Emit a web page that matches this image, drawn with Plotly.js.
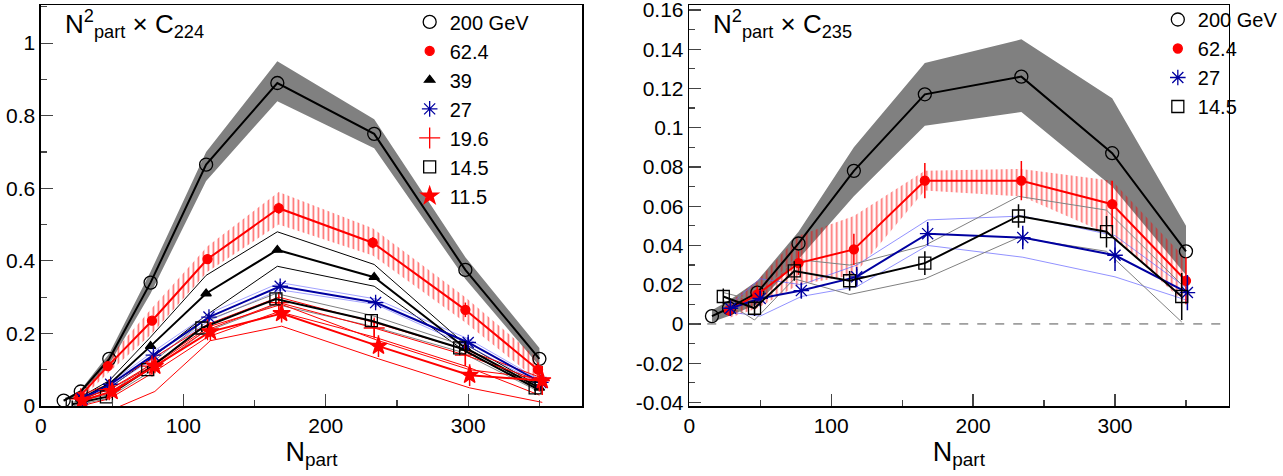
<!DOCTYPE html>
<html><head><meta charset="utf-8">
<script src="https://cdn.plot.ly/plotly-3.0.1.min.js"></script>
<style>body{margin:0}#c{width:1283px;height:476px}</style></head>
<body><div id="c"></div>
<script>
// ---------- Left panel: N_part^2 x C224 ----------
const L200x=[16,28,48,77,116,166,234,298,350];
const L200y=[0.015,0.04,0.13,0.34,0.665,0.89,0.75,0.375,0.13];
const L200lo=[0.012,0.035,0.115,0.31,0.62,0.84,0.71,0.35,0.11];
const L200hi=[0.018,0.045,0.145,0.37,0.70,0.95,0.79,0.41,0.16];
const L62x=[27,47,78,117,167,233,298,349];
const L62y=[0.025,0.11,0.235,0.405,0.545,0.45,0.265,0.10];
const L62e=[0.005,0.01,0.01,0.012,0.015,0.015,0.02,0.02];
const L62lo=[0.015,0.09,0.2,0.37,0.50,0.415,0.23,0.07];
const L62hi=[0.035,0.13,0.27,0.44,0.59,0.49,0.30,0.13];
const L39x=[28,48,77,116,166,234,298,350];
const L39y=[0.02,0.06,0.165,0.31,0.43,0.355,0.16,0.05];
const L39lo=[0.015,0.05,0.13,0.25,0.385,0.33,0.15,0.045];
const L39hi=[0.025,0.07,0.19,0.36,0.48,0.39,0.17,0.055];
const L27x=[29,49,79,118,168,235,300,351];
const L27y=[0.02,0.06,0.14,0.245,0.33,0.285,0.175,0.065];
const L27e=[0.005,0.008,0.01,0.01,0.012,0.012,0.015,0.02];
const L27lo=[0.017,0.055,0.13,0.235,0.32,0.28,0.165,0.06];
const L27hi=[0.023,0.065,0.15,0.255,0.34,0.295,0.185,0.07];
const L19x=[28,48,78,117,167,234,298,350];
const L19y=[0.02,0.045,0.11,0.21,0.285,0.215,0.14,0.07];
const L19e=[0.01,0.01,0.015,0.02,0.02,0.025,0.03,0.03];
const L19lo=[0.0,0.02,0.09,0.19,0.26,0.19,0.11,0.03];
const L19hi=[0.03,0.06,0.13,0.225,0.3,0.23,0.155,0.08];
const L14x=[22,46,75,113,165,232,294,347];
const L14y=[0.005,0.025,0.10,0.215,0.295,0.235,0.16,0.05];
const L14e=[0.01,0.01,0.01,0.012,0.015,0.015,0.02,0.02];
const L14lo=[0.0,0.02,0.09,0.2,0.28,0.22,0.15,0.045];
const L14hi=[0.01,0.03,0.11,0.23,0.31,0.25,0.17,0.055];
const L11x=[29,50,80,119,169,237,301,352];
const L11y=[0.015,0.04,0.11,0.205,0.255,0.165,0.085,0.07];
const L11e=[0.01,0.015,0.02,0.025,0.025,0.03,0.03,0.04];
const L11lo=[-0.03,-0.01,0.04,0.18,0.22,0.13,0.05,0.01];
const L11hi=[0.02,0.05,0.12,0.22,0.28,0.18,0.1,0.075];
// ---------- Right panel: N_part^2 x C235 ----------
const R200x=[16,28,48,77,116,166,234,298,350];
const R200y=[0.004,0.008,0.016,0.041,0.078,0.117,0.126,0.087,0.037];
const R200lo=[0.001,0.004,0.01,0.033,0.065,0.101,0.108,0.07,0.025];
const R200hi=[0.007,0.012,0.022,0.047,0.09,0.133,0.145,0.115,0.05];
const R62x=[28,48,77,116,166,234,298,350];
const R62y=[0.007,0.015,0.031,0.038,0.073,0.073,0.061,0.022];
const R62e=[0.003,0.004,0.006,0.008,0.009,0.01,0.012,0.012];
const R62lo=[0.003,0.008,0.02,0.025,0.068,0.065,0.045,0.01];
const R62hi=[0.011,0.022,0.045,0.055,0.078,0.079,0.073,0.033];
const R27x=[29,50,79,118,168,235,300,351];
const R27y=[0.008,0.013,0.017,0.024,0.046,0.044,0.035,0.016];
const R27e=[0.004,0.004,0.004,0.005,0.006,0.006,0.008,0.009];
const R27lo=[0.006,0.004,0.014,0.019,0.040,0.034,0.024,0.012];
const R27hi=[0.01,0.023,0.02,0.03,0.053,0.055,0.045,0.018];
const R14x=[24,46,74,113,166,232,294,347];
const R14y=[0.014,0.008,0.027,0.022,0.031,0.055,0.047,0.014];
const R14e=[0.004,0.004,0.005,0.005,0.006,0.006,0.008,0.012];
const R14lo=[0.012,0.002,0.023,0.015,0.023,0.044,0.037,0.001];
const R14hi=[0.016,0.012,0.033,0.03,0.040,0.065,0.058,0.02];
const LTicks=[0,0.2,0.4,0.6,0.8,1];
const RTicks=[-0.04,-0.02,0,0.02,0.04,0.06,0.08,0.1,0.12,0.14,0.16];

const traces=[];
function fillBand(x,lo,hi,xa,ya,opt){
  traces.push({x:x,y:lo,xaxis:xa,yaxis:ya,mode:'lines',line:{width:0},showlegend:false,hoverinfo:'skip'});
  traces.push(Object.assign({x:x,y:hi,xaxis:xa,yaxis:ya,mode:'lines',line:{width:0},fill:'tonexty',showlegend:false,hoverinfo:'skip'},opt));
}
function lineBand(x,lo,hi,xa,ya,color,w){
  [lo,hi].forEach(v=>traces.push({x:x,y:v,xaxis:xa,yaxis:ya,mode:'lines',line:{color:color,width:w||1},showlegend:false,hoverinfo:'skip'}));
}
function series(x,y,e,xa,ya,name,color,sym,size,lw,leg){
  traces.push({x:x,y:y,xaxis:xa,yaxis:ya,mode:'lines',line:{color:color,width:lw},showlegend:false});
  traces.push({x:x,y:y,xaxis:xa,yaxis:ya,name:name,legend:leg,mode:'markers',
    marker:{symbol:sym,size:size,color:color,line:{color:color,width:1.3}},
    error_y:e?{type:'data',array:e,color:color,thickness:1.5,width:0}:undefined});
}
const hatch={shape:'|',fgcolor:'rgba(255,0,0,0.55)',bgcolor:'rgba(0,0,0,0)',size:5,solidity:0.35};
// left
fillBand(L200x,L200lo,L200hi,'x','y',{fillcolor:'rgb(128,128,128)'});
fillBand(L62x,L62lo,L62hi,'x','y',{fillcolor:'rgba(0,0,0,0)',fillpattern:hatch});
lineBand(L39x,L39lo,L39hi,'x','y','black',1);
lineBand(L27x,L27lo,L27hi,'x','y','rgba(100,100,255,0.6)',1);
lineBand(L14x,L14lo,L14hi,'x','y','gray',1);
lineBand(L19x,L19lo,L19hi,'x','y','red',1);
lineBand(L11x,L11lo,L11hi,'x','y','red',1);
series(L200x,L200y,null,'x','y','200 GeV','black','circle-open',13,2,'legend');
series(L62x,L62y,L62e,'x','y','62.4','red','circle',9,2,'legend');
series(L39x,L39y,null,'x','y','39','black','triangle-up',9,2,'legend');
series(L27x,L27y,L27e,'x','y','27','#0000a0','asterisk-open',13,2,'legend');
series(L19x,L19y,L19e,'x','y','19.6','red','cross-thin-open',15,1,'legend');
series(L14x,L14y,L14e,'x','y','14.5','black','square-open',12,2,'legend');
series(L11x,L11y,L11e,'x','y','11.5','red','star',13,2,'legend');
// right
fillBand(R200x,R200lo,R200hi,'x2','y2',{fillcolor:'rgb(128,128,128)'});
fillBand(R62x,R62lo,R62hi,'x2','y2',{fillcolor:'rgba(0,0,0,0)',fillpattern:hatch});
lineBand(R27x,R27lo,R27hi,'x2','y2','rgba(100,100,255,0.7)',1);
lineBand(R14x,R14lo,R14hi,'x2','y2','gray',1);
series(R200x,R200y,null,'x2','y2','200 GeV','black','circle-open',13,2,'legend2');
series(R62x,R62y,R62e,'x2','y2','62.4','red','circle',9,2,'legend2');
series(R27x,R27y,R27e,'x2','y2','27','#0000a0','asterisk-open',13,2,'legend2');
series(R14x,R14y,R14e,'x2','y2','14.5','black','square-open',12,2,'legend2');

const F='Liberation Sans, Arial, sans-serif';
const ax=(dom,range,dt,anchor)=>({domain:dom,range:range,dtick:dt,anchor:anchor,showgrid:false,zeroline:false,automargin:false,
  ticklabeloverflow:'allow',showline:true,mirror:true,linecolor:'black',linewidth:1.5,ticks:'inside',ticklen:12,tickwidth:1.2,
  minor:{ticks:'inside',ticklen:6,dtick:dt/2},tickfont:{family:F,size:21,color:'black'}});
const yd=[1-406/476,1-5/476];
const xt={text:'N<sub>part</sub>',font:{family:F,size:27,color:'black'},standoff:2};
const lg={xanchor:'left',yanchor:'top',bgcolor:'rgba(0,0,0,0)',font:{family:F,size:20,color:'black'},traceorder:'normal',tracegroupgap:0,itemwidth:30};
const layout={width:1283,height:476,margin:{l:0,r:0,t:0,b:0},paper_bgcolor:'white',plot_bgcolor:'white',
  xaxis:Object.assign(ax([42/1283,598/1283],[0,380],100,'y'),{title:xt}),
  yaxis:Object.assign(ax(yd,[0,1.105],0.2,'x'),{tickvals:LTicks,ticktext:LTicks.map(String)}),
  xaxis2:Object.assign(ax([708/1283,1262/1283],[0,380],100,'y2'),{title:xt}),
  yaxis2:Object.assign(ax(yd,[-0.0418,0.1625],0.02,'x2'),{tickvals:RTicks,ticktext:RTicks.map(String)}),
  legend:Object.assign({x:0.328,y:0.995},lg),
  legend2:Object.assign({x:0.927,y:1.0},lg),
  shapes:[{type:'line',xref:'x2',yref:'y2',x0:0,x1:380,y0:0,y1:0,line:{color:'#555',width:1,dash:'dash'}}],
  annotations:[
   {xref:'paper',yref:'paper',x:65/1283,y:1-44/476,xanchor:'left',yanchor:'bottom',showarrow:false,
    text:'N<sup>2</sup><sub>part</sub> × C<sub>224</sub>',font:{family:F,size:26,color:'black'}},
   {xref:'paper',yref:'paper',x:730/1283,y:1-44/476,xanchor:'left',yanchor:'bottom',showarrow:false,
    text:'N<sup>2</sup><sub>part</sub> × C<sub>235</sub>',font:{family:F,size:26,color:'black'}}]
};
Plotly.newPlot('c',traces,layout,{staticPlot:true});
</script></body></html>
